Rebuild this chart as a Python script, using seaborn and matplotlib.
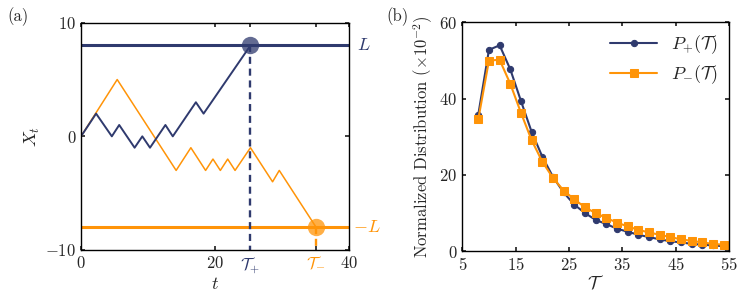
import numpy as np
import pandas as pd
import seaborn as sns
import matplotlib
matplotlib.use("Agg")
import matplotlib.pyplot as plt

navy = "#2f3a6e"
orange = "#ff9408"

# panel (a): two random walks (vertices)
walk_up_t = [0, 2.25, 4.6, 5.7, 8.0, 9.15, 10.3, 12.6, 13.7, 17.15, 18.3, 25.3]
walk_up_x = [0, 2, 0, 1, -1, 0, -1, 1, 0, 3, 2, 8]
walk_dn_t = [0, 5.4, 14.2, 16.4, 18.6, 19.7, 20.8, 21.9, 23.0, 25.3, 28.6, 29.6, 35.1]
walk_dn_x = [0, 5, -3, -1, -3, -2, -3, -2, -3, -1, -4, -3, -8]
L = 8
T_plus = 25.3
T_minus = 35.1

# panel (b): first passage distributions (x 1e-2)
tau = [8, 10, 12, 14, 16, 18, 20, 22, 24, 26, 28, 30, 32, 34, 36, 38, 40,
       42, 44, 46, 48, 50, 52, 54]
p_plus = [35.8, 52.8, 54.0, 47.7, 39.4, 31.3, 24.8, 19.5, 15.4, 12.2, 10.0,
          8.2, 7.1, 5.9, 5.1, 4.3, 3.7, 3.1, 2.6, 2.3, 1.9, 1.7, 1.5, 1.3]
p_minus = [34.6, 50.0, 50.2, 43.9, 36.3, 29.1, 23.5, 19.2, 15.9, 13.6, 11.5,
           10.0, 8.7, 7.5, 6.5, 5.6, 4.9, 4.3, 3.7, 3.1, 2.7, 2.3, 1.9, 1.7]

sns.set_theme(style="ticks")
plt.rcParams.update({
    "font.family": "serif",
    "font.serif": ["cmr10"],
    "mathtext.fontset": "cm",
    "axes.formatter.use_mathtext": True,
    "font.size": 12,
    "axes.labelsize": 12,
    "axes.linewidth": 1.0,
    "axes.edgecolor": "black",
    "xtick.direction": "in",
    "ytick.direction": "in",
    "xtick.top": True,
    "ytick.right": True,
    "xtick.major.size": 3,
    "ytick.major.size": 3,
    "xtick.labelsize": 12,
    "ytick.labelsize": 12,
})

fig = plt.figure(figsize=(7.4, 2.99), dpi=100)
ax1 = fig.add_axes([0.1095, 0.164, 0.362, 0.760])
ax2 = fig.add_axes([0.6247, 0.160, 0.3604, 0.765])

# ---- panel (a)
up = pd.DataFrame({"t": walk_up_t, "x": walk_up_x})
dn = pd.DataFrame({"t": walk_dn_t, "x": walk_dn_x})
sns.lineplot(data=dn, x="t", y="x", ax=ax1, color=orange, lw=1.1, sort=False)
sns.lineplot(data=up, x="t", y="x", ax=ax1, color=navy, lw=1.4, sort=False)
ax1.axhline(L, color=navy, lw=2.2)
ax1.axhline(-L, color=orange, lw=2.2)
ax1.plot([T_plus, T_plus], [L, -10], ls=(0, (3, 2)), color=navy, lw=1.7)
ax1.plot([T_minus, T_minus], [-L, -10], ls=(0, (3, 2)), color=orange, lw=1.7)
ax1.plot(T_plus, L, "o", ms=12.5, color=navy, alpha=0.75, mec="none")
ax1.plot(T_minus, -L, "o", ms=12.5, color=orange, alpha=0.75, mec="none")
ax1.set_xlim(0, 40)
ax1.set_ylim(-10, 10)
ax1.set_xticks([0, 20, T_plus, T_minus, 40])
ax1.set_xticklabels(["$0$", "$20$", r"$\mathcal{T}_{+}$", r"$\mathcal{T}_{-}$", "$40$"])
ax1.get_xticklabels()[2].set_color(navy)
ax1.get_xticklabels()[3].set_color(orange)
ax1.set_yticks([-10, 0, 10])
ax1.set_xlabel("$t$", labelpad=0, fontsize=13)
ax1.set_ylabel("$X_t$", labelpad=2, fontsize=13)
ax1.text(41.2, L, "$L$", color=navy, va="center", ha="left", fontsize=13)
ax1.text(40.6, -L, "$-L$", color=orange, va="center", ha="left", fontsize=13)
fig.text(0.01, 0.945, "(a)", fontsize=12, va="center")

# ---- panel (b)
dist = pd.DataFrame({"tau": tau, "plus": p_plus, "minus": p_minus})
sns.lineplot(data=dist, x="tau", y="plus", ax=ax2, color=navy, lw=1.5,
             marker="o", ms=4.5, mec=navy, label=r"$P_{+}(\mathcal{T})$")
sns.lineplot(data=dist, x="tau", y="minus", ax=ax2, color=orange, lw=1.5,
             marker="s", ms=5.5, mec=orange, label=r"$P_{-}(\mathcal{T})$")
ax2.set_xlim(5, 55)
ax2.set_ylim(0, 60)
ax2.set_xticks([5, 15, 25, 35, 45, 55])
ax2.set_yticks([0, 20, 40, 60])
ax2.set_xlabel(r"$\mathcal{T}$", labelpad=1, fontsize=13)
ax2.set_ylabel(r"Normalized Distribution $(\times 10^{-2})$", labelpad=3)
ax2.legend(frameon=False, loc="upper right", handlelength=2.6, fontsize=13,
           borderaxespad=0.2, labelspacing=0.4)
fig.text(0.522, 0.945, "(b)", fontsize=12, va="center")

fig.savefig("out.png", dpi=100)
